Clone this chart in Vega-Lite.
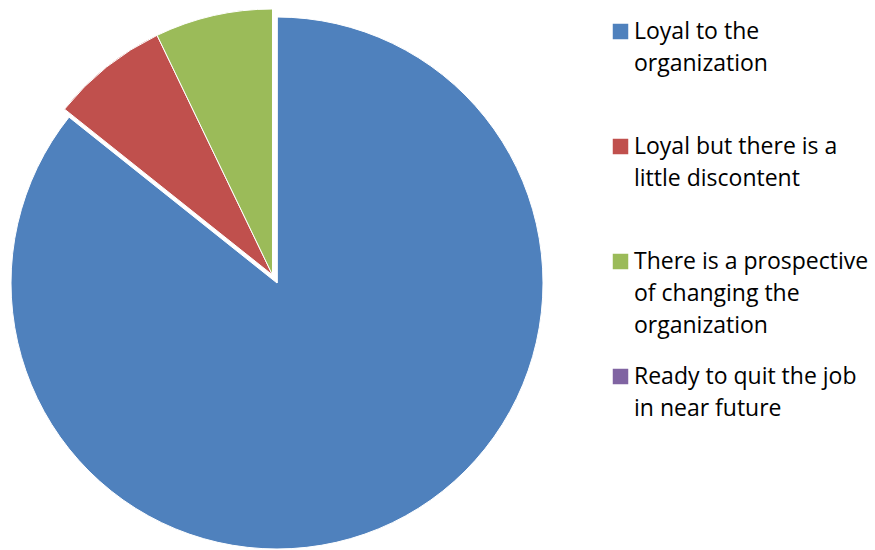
{
  "$schema": "https://vega.github.io/schema/vega-lite/v6.json",
  "width": 554,
  "height": 566,
  "autosize": {"type": "pad"},
  "padding": 0,
  "background": "white",
  "config": {
    "view": {"stroke": null},
    "style": {"guide-label": {"lineHeight": 32}}
  },
  "data": {
    "values": [
      {"category": "Loyal to the organization", "value": 24, "rank": 1},
      {"category": "Loyal but there is a little discontent", "value": 2, "rank": 2},
      {"category": "There is a prospective of changing the organization", "value": 2, "rank": 3},
      {"category": "Ready to quit the job in near future", "value": 0, "rank": 4}
    ]
  },
  "transform": [
    {"stack": "value", "groupby": [], "sort": [{"field": "rank", "order": "ascending"}], "as": ["v0", "v1"]}
  ],
  "encoding": {
    "theta": {"field": "v0", "type": "quantitative", "scale": {"domain": [0, 28]}},
    "theta2": {"field": "v1"},
    "color": {
      "field": "category",
      "type": "nominal",
      "scale": {
        "domain": [
          "Loyal to the organization",
          "Loyal but there is a little discontent",
          "There is a prospective of changing the organization",
          "Ready to quit the job in near future"
        ],
        "range": ["#4F81BD", "#C0504D", "#9BBB59", "#8064A2"]
      },
      "legend": {
        "orient": "none",
        "legendX": 609,
        "legendY": 20,
        "title": null,
        "padding": 0,
        "symbolType": "square",
        "symbolSize": 240,
        "symbolStrokeWidth": 0,
        "labelFont": "Open Sans",
        "labelFontSize": 23,
        "labelColor": "#000000",
        "labelLimit": 400,
        "labelOffset": 2,
        "labelBaseline": "middle",
        "gridAlign": "all",
        "rowPadding": 27,
        "labelExpr": "datum.label == 'Loyal to the organization' ? ['Loyal to the', 'organization'] : datum.label == 'Loyal but there is a little discontent' ? ['Loyal but there is a', 'little discontent'] : datum.label == 'There is a prospective of changing the organization' ? ['There is a prospective', 'of changing the', 'organization'] : ['Ready to quit the job', 'in near future']"
      }
    }
  },
  "layer": [
    {
      "transform": [{"filter": "datum.rank == 1 || datum.rank == 4"}],
      "mark": {"type": "arc", "outerRadius": 266, "stroke": "white", "strokeWidth": 1}
    },
    {
      "transform": [{"filter": "datum.rank == 2 || datum.rank == 3"}],
      "mark": {"type": "arc", "outerRadius": 266, "stroke": "white", "strokeWidth": 1, "xOffset": -4.5, "yOffset": -8}
    }
  ]
}
